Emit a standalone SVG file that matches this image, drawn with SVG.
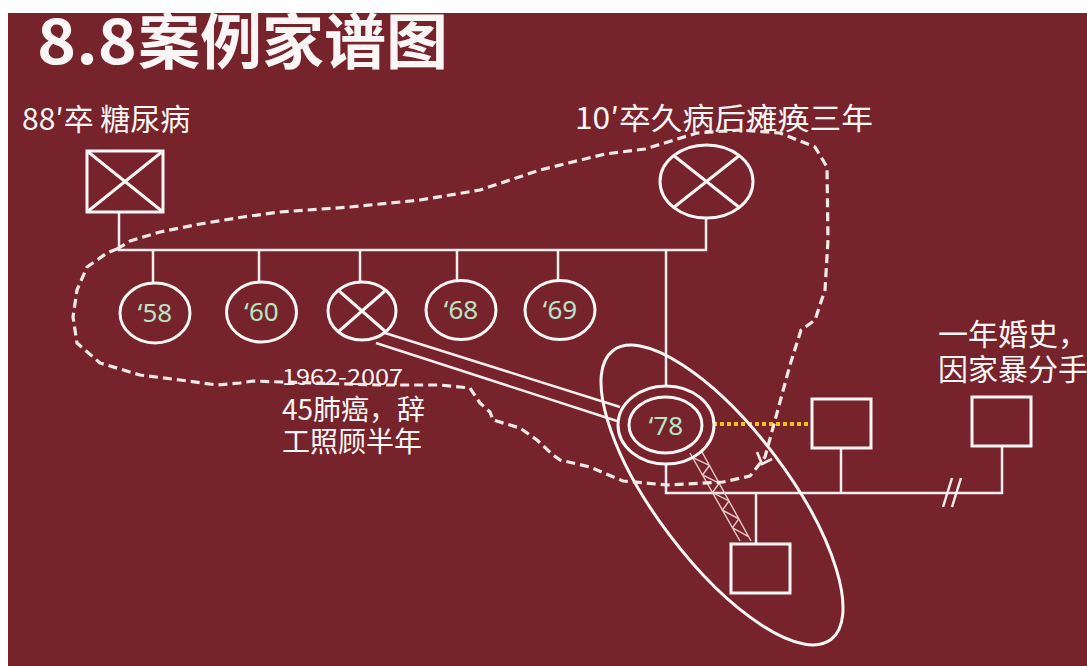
<svg xmlns="http://www.w3.org/2000/svg" width="1087" height="666" viewBox="0 0 1087 666">
<style>
.t{font-family:"Noto Sans CJK SC","Noto Sans",sans-serif;fill:#fbf6f6}
.g{font-family:"Noto Sans","Noto Sans CJK SC",sans-serif;fill:#b9e4c6;font-size:26px}
.s{fill:none;stroke:#fbf6f6;stroke-width:3}
.l{fill:none;stroke:#f6eeee;stroke-width:2.5}
</style>
<rect width="1087" height="666" fill="#ffffff"/>
<rect x="8" y="13" width="1079" height="653" fill="#76232c"/>
<g id="title">
<text class="t" x="37" y="64" font-size="62" font-weight="bold" textLength="100" lengthAdjust="spacingAndGlyphs">8.8</text>
<text class="t" x="138" y="64" font-size="60" font-weight="bold" textLength="310" lengthAdjust="spacingAndGlyphs">案例家谱图</text>
</g>
<g id="connectors">
<path class="l" d="M119,212 V250 H706 V218"/>
<path class="l" d="M153,250 V283 M259,250 V282 M360,250 V282 M457,250 V281 M558,250 V281"/>
<path class="l" d="M666,250 V386"/>
<path class="l" d="M666,464 V493 H1002 V446 M841,448 V493 M756,493 V543"/>
<path class="l" d="M952,478 L943,507 M961,478 L952,507"/>
<path class="l" d="M385,333 L620,407 M376,343 L617,421"/>
<path d="M690,453 L740,541 M702,452 L751,541 M692.5,457.4 L709.4,465.4 L702.5,475 L719.2,483.2 L712.5,492.6 L729,501 L722.5,510.2 L738.8,518.8 L732.5,527.8 L748.6,536.6" fill="none" stroke="#e9cccc" stroke-width="1.4"/>
<path d="M713,424 H810" fill="none" stroke="#f2c21b" stroke-width="4" stroke-dasharray="4 3"/>
</g>
<g id="grandfather">
<text class="t" x="22" y="130" font-size="30">88′卒 糖尿病</text>
<rect class="s" x="87" y="151" width="76" height="61" stroke-width="3.5"/>
<path class="s" d="M87,151 L163,212 M163,151 L87,212"/>
</g>
<g id="grandmother">
<text class="t" x="575" y="129" font-size="30" textLength="298" lengthAdjust="spacingAndGlyphs">10′卒久病后瘫痪三年</text>
<ellipse class="s" cx="706.5" cy="181.5" rx="46.5" ry="36.5"/>
<path class="s" d="M673,155 L740,208 M740,155 L673,208"/>
</g>
<g id="sib58"><ellipse class="s" cx="155" cy="313" rx="35" ry="30"/><text class="g" x="155" y="322" text-anchor="middle">‘58</text></g>
<g id="sib60"><ellipse class="s" cx="261.5" cy="312" rx="35" ry="30"/><text class="g" x="261.5" y="321" text-anchor="middle">‘60</text></g>
<g id="sib62">
<ellipse class="s" cx="362" cy="311" rx="34" ry="29"/>
<path class="s" d="M338,290 L386,332 M386,290 L338,332"/>
<text class="t" x="282" y="385" font-size="22" textLength="121" lengthAdjust="spacingAndGlyphs">1962-2007</text>
<text class="t" x="282" y="420" font-size="28">45肺癌，辞</text>
<text class="t" x="282" y="452" font-size="28">工照顾半年</text>
</g>
<g id="sib68"><ellipse class="s" cx="461" cy="310" rx="35" ry="29.5"/><text class="g" x="461" y="319" text-anchor="middle">‘68</text></g>
<g id="sib69"><ellipse class="s" cx="560" cy="310" rx="35" ry="29.5"/><text class="g" x="560" y="319" text-anchor="middle">‘69</text></g>
<g id="proband">
<ellipse class="s" cx="666" cy="425" rx="48" ry="39"/>
<ellipse class="s" cx="665.5" cy="425" rx="36.5" ry="28"/>
<text class="g" x="666" y="435" text-anchor="middle" font-size="28">‘78</text>
</g>
<g id="husband"><rect class="s" x="812" y="399" width="59" height="49" stroke-width="3.5"/></g>
<g id="exhusband">
<text class="t" x="938" y="345" font-size="30">一年婚史，</text>
<text class="t" x="938" y="380" font-size="30">因家暴分手</text>
<rect class="s" x="972" y="397" width="59" height="49" stroke-width="3.5"/>
</g>
<g id="son"><rect class="s" x="731" y="544" width="59" height="49" stroke-width="3.5"/></g>
<g id="household">
<ellipse class="s" cx="722" cy="495" rx="181" ry="66" transform="rotate(53 722 495)"/>
</g>
<g id="caregiving-boundary">
<path d="M117,249 L130,241 L160,232 L200,224 L243,217 L280,212 L350,207 L420,200 L480,190 L540,170 L605,154 L645,149 L697,133 L740,130 L780,133 L815,147 L827,167 L828,240 L825,290 L815,320 L801,330 L790,365 L777,413 L765,457 L750,476 L723,482 L667,485 L623,481 L590,467 L560,460 L553,455 L537,440 L520,428 L493,420 L490,412 L480,403 L470,388 L440,385 L380,385 L282,382 L253,381 L240,383 L217,385 L180,380 L140,375 L100,363 L77,343 L73,317 L77,290 L87,267 L107,253 Z" fill="none" stroke="#f3e9e9" stroke-width="3.2" stroke-dasharray="9 5" stroke-linejoin="round"/>
<path d="M757,452 L762,464 L772,459" fill="none" stroke="#f3e9e9" stroke-width="2.6"/>
</g>
</svg>
